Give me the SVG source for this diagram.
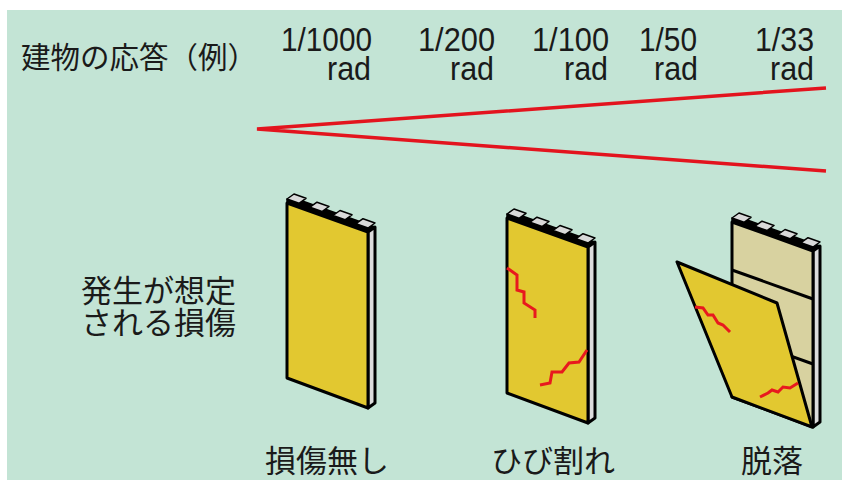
<svg xmlns="http://www.w3.org/2000/svg" xmlns:xlink="http://www.w3.org/1999/xlink" width="842" height="480" viewBox="0 0 842 480">
  <style>
    .jp { font-family: "Noto Sans CJK JP", "Noto Sans", sans-serif; fill: #1a1a1a; }
    .num { font-family: "Liberation Sans", Arial, sans-serif; font-size: 33px; fill: #1a1a1a; text-anchor: end; }
    .edge { stroke: #000; stroke-width: 3; stroke-linejoin: round; }
    .thin { stroke: #000; stroke-width: 1.5; stroke-linejoin: round; }
    .crack { fill: none; stroke: #e8191e; stroke-width: 3; stroke-linejoin: miter; }
    .drift { fill: none; stroke: #e3141e; stroke-width: 3.5; stroke-linecap: butt; }
  </style>
  <defs>
    <!-- thin crenellated board: front face origin at its top-left corner -->
    <g id="board-frame">
      <polygon class="edge" fill="#dcdcdc" points="81,29 88,24 88,200 81,205"/>
      <polygon class="thin" fill="#000" points="0,0 81,29 88,24 7,-5"/>
      <g class="thin">
        <polygon fill="#000" points="0,0 12,4.3 12,0.3 0,-4"/>
        <polygon fill="#d9d9d9" points="0,-4 12,0.3 19,-4.7 7,-9"/>
        <polygon fill="#000" points="23,8.2 35,12.5 35,8.5 23,4.2"/>
        <polygon fill="#d9d9d9" points="23,4.2 35,8.5 42,3.5 30,-0.8"/>
        <polygon fill="#000" points="46,16.5 58,20.8 58,16.8 46,12.5"/>
        <polygon fill="#d9d9d9" points="46,12.5 58,16.8 65,11.8 53,7.5"/>
        <polygon fill="#000" points="69,24.7 81,29 81,25 69,20.7"/>
        <polygon fill="#d9d9d9" points="69,20.7 81,25 88,20 76,15.7"/>
      </g>
    </g>
  </defs>

  <!-- backdrop -->
  <rect x="0" y="0" width="842" height="480" fill="#ffffff"/>
  <rect x="7" y="10" width="835" height="470" fill="#c3e4d5"/>

  <!-- heading and drift scale -->
  <g id="heading">
    <text class="jp" x="21" y="68" font-size="29.5">建物の応答（例）</text>
  </g>
  <g id="drift-labels">
    <text class="num" x="372" y="51" textLength="91" lengthAdjust="spacingAndGlyphs">1/1000</text>
    <text class="num" x="371" y="80" textLength="44" lengthAdjust="spacingAndGlyphs">rad</text>
    <text class="num" x="495" y="51" textLength="77" lengthAdjust="spacingAndGlyphs">1/200</text>
    <text class="num" x="494" y="80" textLength="44" lengthAdjust="spacingAndGlyphs">rad</text>
    <text class="num" x="609" y="51" textLength="77" lengthAdjust="spacingAndGlyphs">1/100</text>
    <text class="num" x="608" y="80" textLength="44" lengthAdjust="spacingAndGlyphs">rad</text>
    <text class="num" x="697" y="51" textLength="58" lengthAdjust="spacingAndGlyphs">1/50</text>
    <text class="num" x="698" y="80" textLength="44" lengthAdjust="spacingAndGlyphs">rad</text>
    <text class="num" x="814" y="51" textLength="59" lengthAdjust="spacingAndGlyphs">1/33</text>
    <text class="num" x="814" y="80" textLength="44" lengthAdjust="spacingAndGlyphs">rad</text>
  </g>

  <!-- widening drift wedge -->
  <g id="connectors">
    <polyline class="drift" points="826,88 257,129 826,171"/>
  </g>

  <g id="damage-label">
    <text class="jp" x="81" y="302" font-size="31">発生が想定</text>
    <text class="jp" x="81" y="334" font-size="31">される損傷</text>
  </g>

  <!-- no damage -->
  <g id="panel-intact" transform="translate(287,203)">
    <use xlink:href="#board-frame"/>
    <polygon class="edge" fill="#e2c830" points="0,0 81,29 81,205 0,175"/>
  </g>
  <g id="label-intact">
    <text class="jp" x="265" y="472" font-size="31">損傷無し</text>
  </g>

  <!-- cracked -->
  <g id="panel-cracked" transform="translate(507,218)">
    <use xlink:href="#board-frame"/>
    <polygon class="edge" fill="#e2c830" points="0,0 81,29 81,205 0,175"/>
    <polyline class="crack" points="0,50 10,57 10,72 17,74 17,85 28,92 28,100"/>
    <polyline class="crack" points="80,132 72,144 62,145 55,154 45,154 43,165 33,167"/>
  </g>
  <g id="label-cracked">
    <text class="jp" x="491" y="472" font-size="31">ひび割れ</text>
  </g>

  <!-- detached -->
  <g id="panel-fallen">
    <g transform="translate(732,222)">
      <use xlink:href="#board-frame"/>
      <polygon class="edge" fill="#d8d2a0" points="0,0 81,29 81,205 0,175"/>
      <line class="edge" x1="0" y1="48" x2="81" y2="77"/>
      <line class="edge" x1="0" y1="113" x2="81" y2="142"/>
    </g>
    <polygon class="edge" fill="#e2c830" points="677,262 777,303 812,427 732,397"/>
    <polyline class="crack" points="695,307 703,308 708,315 713,315 718,323 723,325 730,332"/>
    <polyline class="crack" points="760,397 768,393 772,390 778,392 783,387 790,388 798,383"/>
  </g>
  <g id="label-fallen">
    <text class="jp" x="741" y="472" font-size="31">脱落</text>
  </g>
</svg>
